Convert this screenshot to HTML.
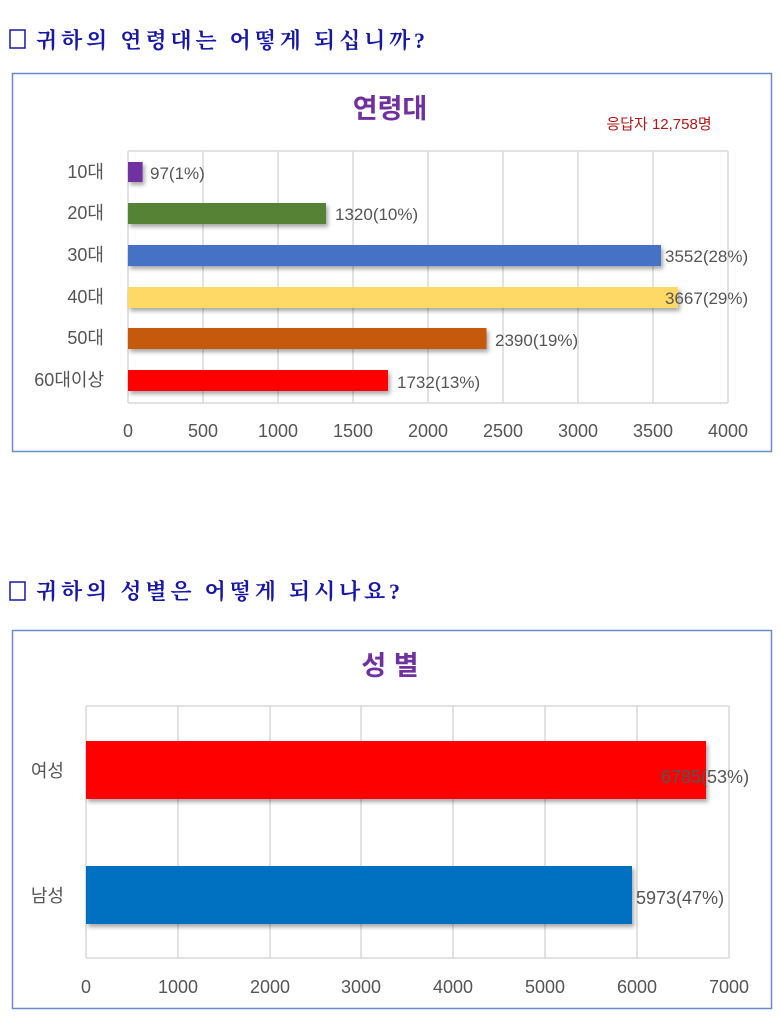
<!DOCTYPE html>
<html><head><meta charset="utf-8"><style>
html,body{margin:0;padding:0;background:#fff;width:780px;height:1020px;overflow:hidden}
svg text{font-family:"Liberation Sans","Noto Sans CJK KR",sans-serif}
.q{font-family:"Liberation Serif","Noto Serif CJK SC",serif;font-weight:bold;fill:#1818a8;font-size:22px}
.t{fill:#555;font-size:17px}
.c{fill:#555;font-size:18px}
.g{stroke:#d9d9d9;stroke-width:1.5}
</style></head><body>
<svg width="780" height="1020" viewBox="0 0 780 1020" xmlns="http://www.w3.org/2000/svg">
<defs><filter id="sh" x="-5%" y="-20%" width="110%" height="160%"><feDropShadow dx="2" dy="3" stdDeviation="2" flood-color="#000" flood-opacity="0.35"/></filter></defs>
<rect x="10" y="30" width="15" height="18" fill="none" stroke="#1818a8" stroke-width="1.5"/>
<text class="q" x="36" y="48" textLength="389" lengthAdjust="spacing">귀하의 연령대는 어떻게 되십니까?</text>
<rect x="12.5" y="73.5" width="759" height="378" fill="#fff" stroke="#6a8cc8" stroke-width="1.5"/>
<text x="390" y="118" text-anchor="middle" font-size="27" font-weight="bold" fill="#7030a0">연령대</text>
<text x="659" y="129" text-anchor="middle" font-size="15" fill="#b01818">응답자 12,758명</text>
<g>
<line class="g" x1="128" y1="151" x2="728" y2="151"/>
<line class="g" x1="128" y1="403" x2="728" y2="403"/>
<line class="g" x1="128" y1="151" x2="128" y2="403"/>
<line class="g" x1="203" y1="151" x2="203" y2="403"/>
<line class="g" x1="278" y1="151" x2="278" y2="403"/>
<line class="g" x1="353" y1="151" x2="353" y2="403"/>
<line class="g" x1="428" y1="151" x2="428" y2="403"/>
<line class="g" x1="503" y1="151" x2="503" y2="403"/>
<line class="g" x1="578" y1="151" x2="578" y2="403"/>
<line class="g" x1="653" y1="151" x2="653" y2="403"/>
<line class="g" x1="728" y1="151" x2="728" y2="403"/>
</g>
<g filter="url(#sh)">
<rect x="128" y="162" width="14.6" height="20" fill="#7030a0"/>
<rect x="128" y="203" width="198" height="21" fill="#548235"/>
<rect x="128" y="245" width="533" height="21" fill="#4472c4"/>
<rect x="128" y="287" width="550" height="21" fill="#ffd966"/>
<rect x="128" y="328" width="358.5" height="21" fill="#c55a11"/>
<rect x="128" y="370" width="260" height="21" fill="#ff0000"/>
</g>
<g class="t">
<text x="150" y="179">97(1%)</text>
<text x="335" y="220">1320(10%)</text>
<text x="665" y="262">3552(28%)</text>
<text x="665" y="304">3667(29%)</text>
<text x="495" y="346">2390(19%)</text>
<text x="397" y="388">1732(13%)</text>
</g>
<g class="c" text-anchor="end">
<text x="104" y="178">10대</text>
<text x="104" y="219">20대</text>
<text x="104" y="261">30대</text>
<text x="104" y="303">40대</text>
<text x="104" y="344">50대</text>
<text x="104" y="386">60대이상</text>
</g>
<g class="c" text-anchor="middle">
<text x="128" y="437">0</text><text x="203" y="437">500</text><text x="278" y="437">1000</text><text x="353" y="437">1500</text><text x="428" y="437">2000</text><text x="503" y="437">2500</text><text x="578" y="437">3000</text><text x="653" y="437">3500</text><text x="728" y="437">4000</text>
</g>
<rect x="10" y="582" width="15" height="18" fill="none" stroke="#1818a8" stroke-width="1.5"/>
<text class="q" x="36" y="599" textLength="364" lengthAdjust="spacing">귀하의 성별은 어떻게 되시나요?</text>
<rect x="12.5" y="630.5" width="759" height="378" fill="#fff" stroke="#6a8cc8" stroke-width="1.5"/>
<text x="390" y="675" text-anchor="middle" font-size="27" font-weight="bold" fill="#7030a0">성 별</text>
<g>
<line class="g" x1="86" y1="706" x2="729" y2="706"/>
<line class="g" x1="86" y1="958" x2="729" y2="958"/>
<line class="g" x1="86" y1="706" x2="86" y2="958"/>
<line class="g" x1="178" y1="706" x2="178" y2="958"/>
<line class="g" x1="270" y1="706" x2="270" y2="958"/>
<line class="g" x1="361" y1="706" x2="361" y2="958"/>
<line class="g" x1="453" y1="706" x2="453" y2="958"/>
<line class="g" x1="545" y1="706" x2="545" y2="958"/>
<line class="g" x1="637" y1="706" x2="637" y2="958"/>
<line class="g" x1="729" y1="706" x2="729" y2="958"/>
</g>
<g filter="url(#sh)">
<rect x="86" y="741" width="620" height="58" fill="#ff0000"/>
<rect x="86" y="866" width="546" height="58" fill="#0070c0"/>
</g>
<g class="c">
<text x="661" y="783">6785(53%)</text>
<text x="636" y="904">5973(47%)</text>
</g>
<g class="c" text-anchor="end">
<text x="64" y="777">여성</text>
<text x="64" y="902">남성</text>
</g>
<g class="c" text-anchor="middle">
<text x="86" y="993">0</text><text x="178" y="993">1000</text><text x="270" y="993">2000</text><text x="361" y="993">3000</text><text x="453" y="993">4000</text><text x="545" y="993">5000</text><text x="637" y="993">6000</text><text x="729" y="993">7000</text>
</g>
</svg>
</body></html>
